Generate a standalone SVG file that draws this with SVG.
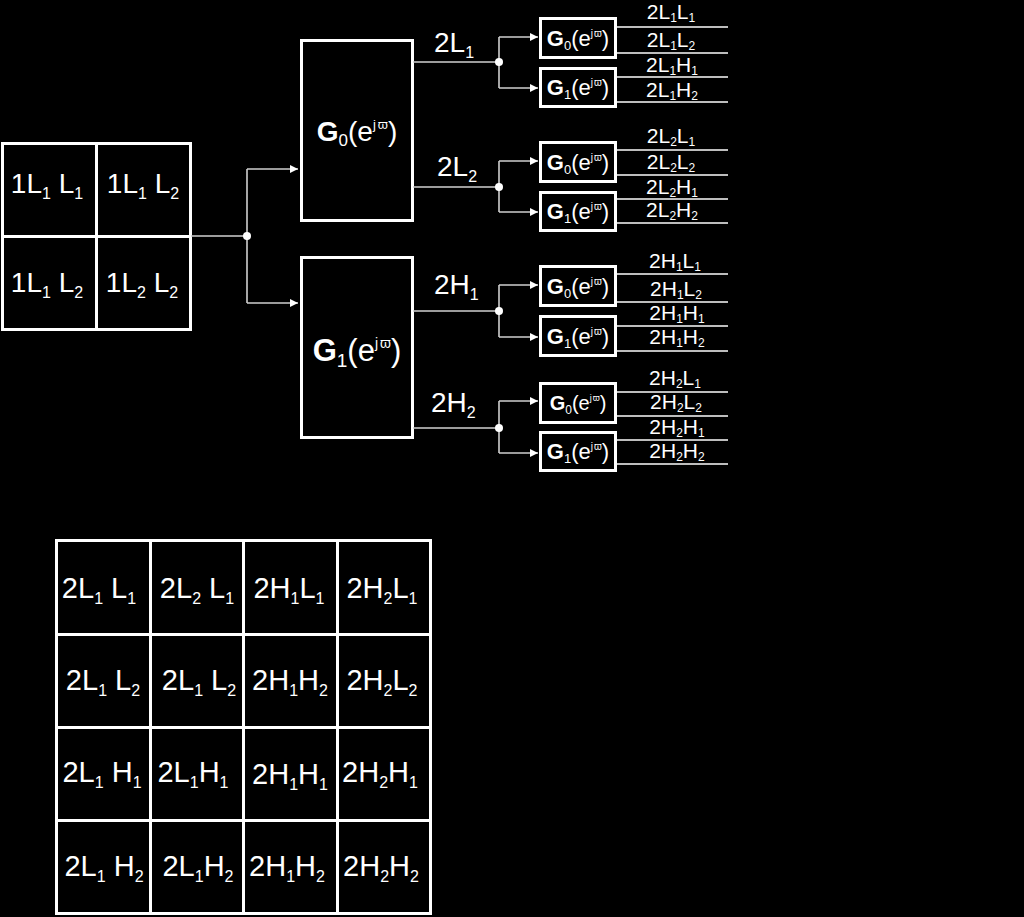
<svg xmlns="http://www.w3.org/2000/svg" width="1024" height="917" viewBox="0 0 1024 917">
<style>
text{font-family:"Liberation Sans",Arial,sans-serif;fill:#fff}
.box{fill:#000;stroke:#fff;stroke-width:3}
.cell{fill:#000;stroke:#fff;stroke-width:3}
.con{fill:none;stroke:#cfcfcf;stroke-width:1.6}
.out{fill:none;stroke:#bdbdbd;stroke-width:2}
.dot{fill:#fff}
.t28{font-size:28px}
.t29{font-size:29px}
.ol{font-size:21px}
.b{font-weight:bold}
</style>
<defs>
<marker id="arr" markerUnits="userSpaceOnUse" markerWidth="10" markerHeight="10" refX="9" refY="5" orient="auto">
<path d="M1,1 L9,5 L1,9 Z" fill="#fff"/>
</marker>
</defs>
<rect x="0" y="0" width="1024" height="917" fill="#000"/>

<g id="input-grid">
<rect class="cell" x="2.5" y="143.5" width="94" height="93"/>
<rect class="cell" x="96.5" y="143.5" width="94" height="93"/>
<rect class="cell" x="2.5" y="236.5" width="94" height="93"/>
<rect class="cell" x="96.5" y="236.5" width="94" height="93"/>
<text class="t28" x="47" y="193" text-anchor="middle">1L<tspan font-size="16" dy="6">1</tspan><tspan dy="-6"> L</tspan><tspan font-size="16" dy="6">1</tspan></text>
<text class="t28" x="143" y="193" text-anchor="middle">1L<tspan font-size="16" dy="6">1</tspan><tspan dy="-6"> L</tspan><tspan font-size="16" dy="6">2</tspan></text>
<text class="t28" x="47" y="292" text-anchor="middle">1L<tspan font-size="16" dy="6">1</tspan><tspan dy="-6"> L</tspan><tspan font-size="16" dy="6">2</tspan></text>
<text class="t28" x="142" y="292" text-anchor="middle">1L<tspan font-size="16" dy="6">2</tspan><tspan dy="-6"> L</tspan><tspan font-size="16" dy="6">2</tspan></text>
</g>

<g id="G0-big">
<rect class="box" x="301.5" y="40.5" width="111" height="180"/>
<text x="357" y="141" text-anchor="middle" font-size="28"><tspan class="b">G</tspan><tspan font-size="17" dy="5">0</tspan><tspan dy="-5">(e</tspan><tspan font-size="13" dy="-12">j</tspan><tspan font-size="13" dx="2">ϖ</tspan><tspan dy="12">)</tspan></text>
</g>
<g id="G1-big">
<rect class="box" x="301.5" y="257.5" width="111" height="180"/>
<text x="357" y="361" text-anchor="middle" font-size="31"><tspan class="b">G</tspan><tspan font-size="19" dy="6">1</tspan><tspan dy="-6">(e</tspan><tspan font-size="14" dy="-13">j</tspan><tspan font-size="14" dx="2">ϖ</tspan><tspan dy="13">)</tspan></text>
</g>

<g id="band-labels">
<text class="t28" x="434" y="52">2L<tspan font-size="16" dy="6">1</tspan></text>
<text class="t28" x="437" y="176">2L<tspan font-size="16" dy="6">2</tspan></text>
<text class="t28" x="434" y="294">2H<tspan font-size="16" dy="6">1</tspan></text>
<text class="t28" x="431" y="412">2H<tspan font-size="16" dy="6">2</tspan></text>
</g>

<g id="connectors">
<path class="con" d="M191,236 H247 M247,169 V303"/>
<path class="con" d="M247,169 H298" marker-end="url(#arr)"/>
<path class="con" d="M247,303 H298" marker-end="url(#arr)"/>
<circle class="dot" cx="247" cy="236" r="4"/>

<path class="con" d="M413,62 H499 M499,37 V88"/>
<path class="con" d="M499,37 H538" marker-end="url(#arr)"/>
<path class="con" d="M499,88 H538" marker-end="url(#arr)"/>
<circle class="dot" cx="499" cy="62" r="4"/>

<path class="con" d="M413,187 H499 M499,161 V212"/>
<path class="con" d="M499,161 H538" marker-end="url(#arr)"/>
<path class="con" d="M499,212 H538" marker-end="url(#arr)"/>
<circle class="dot" cx="499" cy="187" r="4"/>

<path class="con" d="M413,311 H499 M499,285 V337"/>
<path class="con" d="M499,285 H538" marker-end="url(#arr)"/>
<path class="con" d="M499,337 H538" marker-end="url(#arr)"/>
<circle class="dot" cx="499" cy="311" r="4"/>

<path class="con" d="M413,428 H499 M499,401 V453"/>
<path class="con" d="M499,401 H538" marker-end="url(#arr)"/>
<path class="con" d="M499,453 H538" marker-end="url(#arr)"/>
<circle class="dot" cx="499" cy="428" r="4"/>

<path class="out" d="M616,27 H728 M616,53 H728 M616,77 H728 M616,102 H728"/>
<path class="out" d="M616,150 H728 M616,175 H728 M616,199 H728 M616,223 H728"/>
<path class="out" d="M616,274 H728 M616,302 H728 M616,326 H728 M616,351 H728"/>
<path class="out" d="M616,392 H728 M616,416 H728 M616,440 H728 M616,464 H728"/>
</g>

<g id="small-filters">
<g id="f1-G0"><rect class="box" x="540.5" y="18.5" width="75" height="39"/>
<text x="578" y="46" text-anchor="middle" font-size="22"><tspan class="b">G</tspan><tspan font-size="13" dy="4">0</tspan><tspan dy="-4">(e</tspan><tspan font-size="10" dy="-9">j</tspan><tspan font-size="10" dx="1">ϖ</tspan><tspan dy="9">)</tspan></text></g>
<g id="f1-G1"><rect class="box" x="540.5" y="68.5" width="75" height="38"/>
<text x="578" y="95" text-anchor="middle" font-size="22"><tspan class="b">G</tspan><tspan font-size="13" dy="4">1</tspan><tspan dy="-4">(e</tspan><tspan font-size="10" dy="-9">j</tspan><tspan font-size="10" dx="1">ϖ</tspan><tspan dy="9">)</tspan></text></g>

<g id="f2-G0"><rect class="box" x="540.5" y="142.5" width="75" height="39"/>
<text x="578" y="170" text-anchor="middle" font-size="22"><tspan class="b">G</tspan><tspan font-size="13" dy="4">0</tspan><tspan dy="-4">(e</tspan><tspan font-size="10" dy="-9">j</tspan><tspan font-size="10" dx="1">ϖ</tspan><tspan dy="9">)</tspan></text></g>
<g id="f2-G1"><rect class="box" x="540.5" y="192.5" width="75" height="38"/>
<text x="578" y="219" text-anchor="middle" font-size="22"><tspan class="b">G</tspan><tspan font-size="13" dy="4">1</tspan><tspan dy="-4">(e</tspan><tspan font-size="10" dy="-9">j</tspan><tspan font-size="10" dx="1">ϖ</tspan><tspan dy="9">)</tspan></text></g>

<g id="f3-G0"><rect class="box" x="540.5" y="266.5" width="75" height="39"/>
<text x="578" y="294" text-anchor="middle" font-size="22"><tspan class="b">G</tspan><tspan font-size="13" dy="4">0</tspan><tspan dy="-4">(e</tspan><tspan font-size="10" dy="-9">j</tspan><tspan font-size="10" dx="1">ϖ</tspan><tspan dy="9">)</tspan></text></g>
<g id="f3-G1"><rect class="box" x="540.5" y="316.5" width="75" height="39"/>
<text x="578" y="344" text-anchor="middle" font-size="22"><tspan class="b">G</tspan><tspan font-size="13" dy="4">1</tspan><tspan dy="-4">(e</tspan><tspan font-size="10" dy="-9">j</tspan><tspan font-size="10" dx="1">ϖ</tspan><tspan dy="9">)</tspan></text></g>

<g id="f4-G0"><rect class="box" x="540.5" y="383.5" width="75" height="39"/>
<text x="578" y="410" text-anchor="middle" font-size="20"><tspan class="b">G</tspan><tspan font-size="12" dy="4">0</tspan><tspan dy="-4">(e</tspan><tspan font-size="9" dy="-9">j</tspan><tspan font-size="9" dx="1">ϖ</tspan><tspan dy="9">)</tspan></text></g>
<g id="f4-G1"><rect class="box" x="540.5" y="432.5" width="75" height="38"/>
<text x="578" y="459" text-anchor="middle" font-size="22"><tspan class="b">G</tspan><tspan font-size="13" dy="4">1</tspan><tspan dy="-4">(e</tspan><tspan font-size="10" dy="-9">j</tspan><tspan font-size="10" dx="1">ϖ</tspan><tspan dy="9">)</tspan></text></g>
</g>

<g id="output-labels">
<text class="ol" x="671" y="19" text-anchor="middle">2L<tspan font-size="12" dy="3">1</tspan><tspan dy="-3">L</tspan><tspan font-size="12" dy="3">1</tspan></text>
<text class="ol" x="671" y="47" text-anchor="middle">2L<tspan font-size="12" dy="3">1</tspan><tspan dy="-3">L</tspan><tspan font-size="12" dy="3">2</tspan></text>
<text class="ol" x="672" y="72" text-anchor="middle">2L<tspan font-size="12" dy="3">1</tspan><tspan dy="-3">H</tspan><tspan font-size="12" dy="3">1</tspan></text>
<text class="ol" x="672" y="97" text-anchor="middle">2L<tspan font-size="12" dy="3">1</tspan><tspan dy="-3">H</tspan><tspan font-size="12" dy="3">2</tspan></text>

<text class="ol" x="671" y="143" text-anchor="middle">2L<tspan font-size="12" dy="3">2</tspan><tspan dy="-3">L</tspan><tspan font-size="12" dy="3">1</tspan></text>
<text class="ol" x="671" y="169" text-anchor="middle">2L<tspan font-size="12" dy="3">2</tspan><tspan dy="-3">L</tspan><tspan font-size="12" dy="3">2</tspan></text>
<text class="ol" x="672" y="194" text-anchor="middle">2L<tspan font-size="12" dy="3">2</tspan><tspan dy="-3">H</tspan><tspan font-size="12" dy="3">1</tspan></text>
<text class="ol" x="672" y="217" text-anchor="middle">2L<tspan font-size="12" dy="3">2</tspan><tspan dy="-3">H</tspan><tspan font-size="12" dy="3">2</tspan></text>

<text class="ol" x="675" y="268" text-anchor="middle">2H<tspan font-size="12" dy="3">1</tspan><tspan dy="-3">L</tspan><tspan font-size="12" dy="3">1</tspan></text>
<text class="ol" x="676" y="296" text-anchor="middle">2H<tspan font-size="12" dy="3">1</tspan><tspan dy="-3">L</tspan><tspan font-size="12" dy="3">2</tspan></text>
<text class="ol" x="677" y="320" text-anchor="middle">2H<tspan font-size="12" dy="3">1</tspan><tspan dy="-3">H</tspan><tspan font-size="12" dy="3">1</tspan></text>
<text class="ol" x="677" y="344" text-anchor="middle">2H<tspan font-size="12" dy="3">1</tspan><tspan dy="-3">H</tspan><tspan font-size="12" dy="3">2</tspan></text>

<text class="ol" x="675" y="385" text-anchor="middle">2H<tspan font-size="12" dy="3">2</tspan><tspan dy="-3">L</tspan><tspan font-size="12" dy="3">1</tspan></text>
<text class="ol" x="676" y="409" text-anchor="middle">2H<tspan font-size="12" dy="3">2</tspan><tspan dy="-3">L</tspan><tspan font-size="12" dy="3">2</tspan></text>
<text class="ol" x="677" y="434" text-anchor="middle">2H<tspan font-size="12" dy="3">2</tspan><tspan dy="-3">H</tspan><tspan font-size="12" dy="3">1</tspan></text>
<text class="ol" x="677" y="458" text-anchor="middle">2H<tspan font-size="12" dy="3">2</tspan><tspan dy="-3">H</tspan><tspan font-size="12" dy="3">2</tspan></text>
</g>

<g id="output-grid">
<rect class="cell" x="56.5" y="540.5" width="94" height="94"/>
<rect class="cell" x="150.5" y="540.5" width="93" height="94"/>
<rect class="cell" x="243.5" y="540.5" width="94" height="94"/>
<rect class="cell" x="337.5" y="540.5" width="93" height="94"/>
<rect class="cell" x="56.5" y="634.5" width="94" height="93"/>
<rect class="cell" x="150.5" y="634.5" width="93" height="93"/>
<rect class="cell" x="243.5" y="634.5" width="94" height="93"/>
<rect class="cell" x="337.5" y="634.5" width="93" height="93"/>
<rect class="cell" x="56.5" y="727.5" width="94" height="93"/>
<rect class="cell" x="150.5" y="727.5" width="93" height="93"/>
<rect class="cell" x="243.5" y="727.5" width="94" height="93"/>
<rect class="cell" x="337.5" y="727.5" width="93" height="93"/>
<rect class="cell" x="56.5" y="820.5" width="94" height="93"/>
<rect class="cell" x="150.5" y="820.5" width="93" height="93"/>
<rect class="cell" x="243.5" y="820.5" width="94" height="93"/>
<rect class="cell" x="337.5" y="820.5" width="93" height="93"/>

<text class="t29" x="99" y="598" text-anchor="middle">2L<tspan font-size="16" dy="6">1</tspan><tspan dy="-6"> L</tspan><tspan font-size="16" dy="6">1</tspan></text>
<text class="t29" x="197" y="598" text-anchor="middle">2L<tspan font-size="16" dy="6">2</tspan><tspan dy="-6"> L</tspan><tspan font-size="16" dy="6">1</tspan></text>
<text class="t29" x="289" y="598" text-anchor="middle">2H<tspan font-size="16" dy="6">1</tspan><tspan dy="-6">L</tspan><tspan font-size="16" dy="6">1</tspan></text>
<text class="t29" x="382" y="598" text-anchor="middle">2H<tspan font-size="16" dy="6">2</tspan><tspan dy="-6">L</tspan><tspan font-size="16" dy="6">1</tspan></text>

<text class="t29" x="103" y="690" text-anchor="middle">2L<tspan font-size="16" dy="6">1</tspan><tspan dy="-6"> L</tspan><tspan font-size="16" dy="6">2</tspan></text>
<text class="t29" x="199" y="690" text-anchor="middle">2L<tspan font-size="16" dy="6">1</tspan><tspan dy="-6"> L</tspan><tspan font-size="16" dy="6">2</tspan></text>
<text class="t29" x="290" y="690" text-anchor="middle">2H<tspan font-size="16" dy="6">1</tspan><tspan dy="-6">H</tspan><tspan font-size="16" dy="6">2</tspan></text>
<text class="t29" x="382" y="690" text-anchor="middle">2H<tspan font-size="16" dy="6">2</tspan><tspan dy="-6">L</tspan><tspan font-size="16" dy="6">2</tspan></text>

<text class="t29" x="102" y="782" text-anchor="middle">2L<tspan font-size="16" dy="6">1</tspan><tspan dy="-6"> H</tspan><tspan font-size="16" dy="6">1</tspan></text>
<text class="t29" x="193" y="782" text-anchor="middle">2L<tspan font-size="16" dy="6">1</tspan><tspan dy="-6">H</tspan><tspan font-size="16" dy="6">1</tspan></text>
<text class="t29" x="290" y="784" text-anchor="middle">2H<tspan font-size="16" dy="6">1</tspan><tspan dy="-6">H</tspan><tspan font-size="16" dy="6">1</tspan></text>
<text class="t29" x="380" y="782" text-anchor="middle">2H<tspan font-size="16" dy="6">2</tspan><tspan dy="-6">H</tspan><tspan font-size="16" dy="6">1</tspan></text>

<text class="t29" x="104" y="876" text-anchor="middle">2L<tspan font-size="16" dy="6">1</tspan><tspan dy="-6"> H</tspan><tspan font-size="16" dy="6">2</tspan></text>
<text class="t29" x="198" y="876" text-anchor="middle">2L<tspan font-size="16" dy="6">1</tspan><tspan dy="-6">H</tspan><tspan font-size="16" dy="6">2</tspan></text>
<text class="t29" x="287" y="876" text-anchor="middle">2H<tspan font-size="16" dy="6">1</tspan><tspan dy="-6">H</tspan><tspan font-size="16" dy="6">2</tspan></text>
<text class="t29" x="381" y="876" text-anchor="middle">2H<tspan font-size="16" dy="6">2</tspan><tspan dy="-6">H</tspan><tspan font-size="16" dy="6">2</tspan></text>
</g>
</svg>
